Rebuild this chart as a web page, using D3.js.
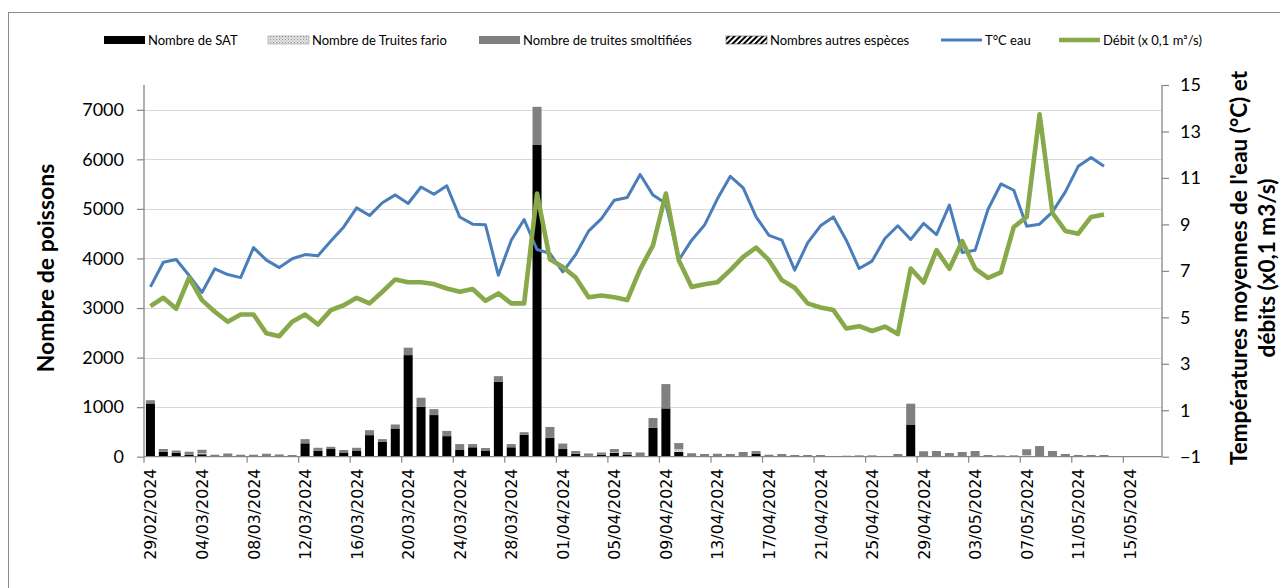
<!DOCTYPE html>
<html><head><meta charset="utf-8">
<script src="https://cdn.jsdelivr.net/npm/d3@7/dist/d3.min.js"></script>
<style>body{margin:0;background:#fff}svg{display:block}</style>
</head><body>
<svg id="c" width="1280" height="588"></svg>
<script>
const categories = [
"29/02/2024",
"01/03/2024","02/03/2024","03/03/2024","04/03/2024","05/03/2024","06/03/2024","07/03/2024","08/03/2024","09/03/2024","10/03/2024",
"11/03/2024","12/03/2024","13/03/2024","14/03/2024","15/03/2024","16/03/2024","17/03/2024","18/03/2024","19/03/2024","20/03/2024",
"21/03/2024","22/03/2024","23/03/2024","24/03/2024","25/03/2024","26/03/2024","27/03/2024","28/03/2024","29/03/2024","30/03/2024","31/03/2024",
"01/04/2024","02/04/2024","03/04/2024","04/04/2024","05/04/2024","06/04/2024","07/04/2024","08/04/2024","09/04/2024","10/04/2024",
"11/04/2024","12/04/2024","13/04/2024","14/04/2024","15/04/2024","16/04/2024","17/04/2024","18/04/2024","19/04/2024","20/04/2024",
"21/04/2024","22/04/2024","23/04/2024","24/04/2024","25/04/2024","26/04/2024","27/04/2024","28/04/2024","29/04/2024","30/04/2024",
"01/05/2024","02/05/2024","03/05/2024","04/05/2024","05/05/2024","06/05/2024","07/05/2024","08/05/2024","09/05/2024","10/05/2024",
"11/05/2024","12/05/2024","13/05/2024","14/05/2024","15/05/2024","16/05/2024","17/05/2024"];

const tickLabels = ["29/02/2024","04/03/2024","08/03/2024","12/03/2024","16/03/2024","20/03/2024","24/03/2024","28/03/2024",
"01/04/2024","05/04/2024","09/04/2024","13/04/2024","17/04/2024","21/04/2024","25/04/2024","29/04/2024",
"03/05/2024","07/05/2024","11/05/2024","15/05/2024"];

const leftTicks = [0,1000,2000,3000,4000,5000,6000,7000];
const rightTicks = [-1,1,3,5,7,9,11,13,15];

const nbSAT = [1075,100,80,40,50,0,0,0,0,0, 0,0,270,120,155,85,125,435,300,570,
2050,1010,840,415,135,190,115,1510,190,440, 6290,380,155,60,20,40,80,35,10,585,
975,100,0,0,0,0,0,55,0,0, 0,0,0,0,0,0,0,0,0,650,
0,0,0,0,0,0,0,0,0,0, 0,0,0,0,0];

const nbFario = [0,0,0,0,20,0,0,0,0,0, 0,0,0,0,0,0,0,0,0,0,
0,0,0,0,0,0,0,0,0,0, 0,0,0,0,0,0,10,0,0,0,
0,50,0,0,0,0,0,0,0,0, 0,0,0,0,0,0,0,0,0,0,
0,0,0,0,0,0,0,0,30,0, 0,0,0,0,0];

const nbSmolt = [65,55,45,60,70,40,65,40,40,60, 45,35,85,60,45,50,55,100,55,80,
150,180,120,105,120,65,60,115,65,55, 770,220,110,55,45,45,65,60,75,195,
490,125,70,55,60,55,95,60,40,55, 35,35,35,15,20,27,27,15,55,420,
110,115,75,95,115,35,27,27,120,215, 115,55,35,35,35];

const nbAutres = [0,0,0,0,0,0,0,0,0,0, 0,0,0,0,0,0,0,0,0,0,
0,0,0,0,0,0,0,0,0,0, 0,0,0,0,0,0,0,0,0,0,
0,0,0,0,0,0,0,0,0,0, 0,0,0,0,0,0,0,0,0,0,
0,0,0,0,0,0,0,0,0,0, 0,0,0,0,0];

const tempEau = [6.31,7.37,7.49,6.8,6.07,7.09,6.84,6.71,8.0,7.46,
7.14,7.52,7.7,7.65,8.28,8.89,9.71,9.38,9.93,10.27,
9.9,10.61,10.3,10.66,9.32,9.01,8.98,6.81,8.32,9.21,
7.92,7.75,6.96,7.7,8.71,9.25,10.04,10.16,11.15,10.26,
9.9,7.46,8.32,8.97,10.1,11.07,10.57,9.32,8.53,8.32,
7.03,8.2,8.94,9.32,8.32,7.1,7.42,8.39,8.94,8.35,
9.04,8.56,9.83,7.79,7.89,9.65,10.74,10.47,8.92,9.01,
9.54,10.4,11.5,11.88,11.5];

const debit = [5.48,5.84,5.37,6.71,5.74,5.24,4.81,5.12,5.12,4.31,
4.19,4.81,5.12,4.69,5.31,5.52,5.84,5.6,6.1,6.63,
6.51,6.51,6.43,6.24,6.1,6.22,5.71,6.03,5.6,5.6,
10.33,7.5,7.17,6.71,5.86,5.94,5.86,5.74,7.06,8.1,
10.33,7.46,6.31,6.42,6.51,7.03,7.6,8.0,7.46,6.6,
6.27,5.6,5.42,5.31,4.52,4.62,4.41,4.6,4.28,7.1,
6.5,7.89,7.09,8.28,7.1,6.7,6.93,8.89,9.32,13.74,
9.49,8.72,8.6,9.32,9.43];

const seriesNames = ["Nombre de SAT","Nombre de Truites fario","Nombre de truites smoltifiées","Nombres autres espèces","T°C eau","Débit (x 0,1 m³/s)"];

// ---------------------------------------------------------------
const svg = d3.select("#c");
const FONT = "Lato, 'Open Sans', sans-serif";
const AX = "#868686";
const plot = {l:144, r:1162, t:85, b:456.7};

// patterns
const defs = svg.append("defs");
const pf = defs.append("pattern").attr("id","pFario").attr("patternUnits","userSpaceOnUse").attr("width",3).attr("height",3);
pf.append("rect").attr("width",3).attr("height",3).attr("fill","#e4e4e4");
pf.append("rect").attr("x",0).attr("y",0).attr("width",1).attr("height",1).attr("fill","#8c8c8c");
pf.append("rect").attr("x",1.5).attr("y",1.5).attr("width",1).attr("height",1).attr("fill","#a8a8a8");
const ph = defs.append("pattern").attr("id","pHatch").attr("patternUnits","userSpaceOnUse").attr("width",4).attr("height",4).attr("patternTransform","rotate(45)");
ph.append("rect").attr("width",4).attr("height",4).attr("fill","#fff");
ph.append("rect").attr("width",2).attr("height",4).attr("fill","#000");

// frame
svg.append("rect").attr("x",8.5).attr("y",12.5).attr("width",1290).attr("height",600)
  .attr("fill","none").attr("stroke","#8c8c8c").attr("stroke-width",1);

const x = d3.scaleBand().domain(categories).range([plot.l, plot.r]).padding(0);
const yL = d3.scaleLinear().domain([0,7500]).range([plot.b, plot.t]);
const yR = d3.scaleLinear().domain([-1,15]).range([plot.b, plot.t]);
const bw = x.bandwidth()*0.7;
const cx = d => x(d) + x.bandwidth()/2;

// gridlines
svg.append("g").selectAll("line").data(leftTicks.filter(v=>v>0)).join("line")
  .attr("x1",plot.l).attr("x2",plot.r).attr("y1",d=>Math.round(yL(d))+0.5).attr("y2",d=>Math.round(yL(d))+0.5)
  .attr("stroke","#d9d9d9").attr("stroke-width",1.2);

// bars
const table = nbSAT.map((v,i)=>({date:categories[i], sat:v, fario:nbFario[i], smolt:nbSmolt[i], autres:nbAutres[i]}));
const keys = ["sat","fario","smolt","autres"];
const fills = {sat:"#000000", fario:"url(#pFario)", smolt:"#808080", autres:"url(#pHatch)"};
const stack = d3.stack().keys(keys)(table);
svg.append("g").selectAll("g").data(stack).join("g")
  .attr("fill",s=>fills[s.key])
  .selectAll("rect").data(s=>s).join("rect")
  .attr("x",d=>cx(d.data.date)-bw/2).attr("width",bw)
  .attr("y",d=>yL(d[1])).attr("height",d=>Math.max(0,yL(d[0])-yL(d[1])));

// axes
const gL = svg.append("g").attr("transform",`translate(${plot.l},0)`)
  .call(d3.axisLeft(yL).tickValues(leftTicks).tickFormat(d3.format("d")).tickSize(7).tickPadding(13));
const gR = svg.append("g").attr("transform",`translate(${plot.r},0)`)
  .call(d3.axisRight(yR).tickValues(rightTicks).tickFormat(d3.format("d")).tickSize(7).tickPadding(11));
[gL,gR].forEach(g=>{
  g.select(".domain").attr("d", `M0,${plot.t}V${plot.b}`).attr("stroke",AX).attr("stroke-width",1.3);
  g.selectAll(".tick line").attr("stroke",AX).attr("stroke-width",1.2);
  g.selectAll(".tick text").attr("font-family",FONT).attr("font-size",18).attr("fill","#000");
});

// x axis
const gX = svg.append("g").attr("transform",`translate(0,${plot.b})`);
gX.append("line").attr("x1",plot.l).attr("x2",plot.r).attr("y1",0).attr("y2",0).attr("stroke",AX).attr("stroke-width",1.3);
gX.selectAll("line.tk").data(tickLabels).join("line").attr("class","tk")
  .attr("x1",d=>x(d)).attr("x2",d=>x(d)).attr("y1",0).attr("y2",6).attr("stroke",AX).attr("stroke-width",1.2);
gX.selectAll("text").data(tickLabels).join("text")
  .attr("transform",d=>`translate(${cx(d)+6},12) rotate(-90)`)
  .attr("text-anchor","end").attr("font-family","'DejaVu Sans', Verdana, sans-serif").attr("font-size",15.8).attr("fill","#000")
  .text(d=>d);

// lines
const idx = d3.range(tempEau.length);
const line = (arr)=>d3.line().x(i=>cx(categories[i])).y(i=>yR(arr[i]))(idx);
svg.append("path").attr("d",line(tempEau)).attr("fill","none").attr("stroke","#4a7ebb").attr("stroke-width",3).attr("stroke-linejoin","round");
svg.append("path").attr("d",line(debit)).attr("fill","none").attr("stroke","#87a94a").attr("stroke-width",4.6).attr("stroke-linejoin","round");

// axis titles
svg.append("text").attr("transform","translate(54,268) rotate(-90)").attr("text-anchor","middle")
  .attr("font-family",FONT).attr("font-weight","bold").attr("font-size",23).attr("fill","#000").text("Nombre de poissons");
svg.append("text").attr("transform","translate(1247,268) rotate(-90)").attr("text-anchor","middle")
  .attr("font-family",FONT).attr("font-weight","bold").attr("font-size",22.5).attr("fill","#000").text("Températures moyennes de l'eau (°C) et");
svg.append("text").attr("transform","translate(1275,268) rotate(-90)").attr("text-anchor","middle")
  .attr("font-family",FONT).attr("font-weight","bold").attr("font-size",22.5).attr("fill","#000").text("débits (x0,1 m3/s)");

// legend
const leg = [
  {t:seriesNames[0], x:104, type:"rect", fill:"#000"},
  {t:seriesNames[1], x:268, type:"rect", fill:"url(#pFario)", stroke:"#9a9a9a"},
  {t:seriesNames[2], x:479, type:"rect", fill:"#808080"},
  {t:seriesNames[3], x:726, type:"rect", fill:"url(#pHatch)", stroke:"#555"},
  {t:seriesNames[4], x:941, type:"line", stroke:"#4a7ebb", w:3},
  {t:seriesNames[5], x:1059, type:"line", stroke:"#87a94a", w:4.6}
];
const gLeg = svg.append("g");
leg.forEach(d=>{
  if(d.type==="rect"){
    gLeg.append("rect").attr("x",d.x).attr("y",36).attr("width",41).attr("height",8).attr("fill",d.fill)
      .attr("stroke",d.stroke||"none").attr("stroke-width",0.6);
  } else {
    gLeg.append("line").attr("x1",d.x).attr("x2",d.x+41).attr("y1",40).attr("y2",40).attr("stroke",d.stroke).attr("stroke-width",d.w);
  }
  gLeg.append("text").attr("x",d.x+44).attr("y",44.5).attr("font-family",FONT).attr("font-size",13).attr("fill","#000").text(d.t);
});
</script>
</body></html>
